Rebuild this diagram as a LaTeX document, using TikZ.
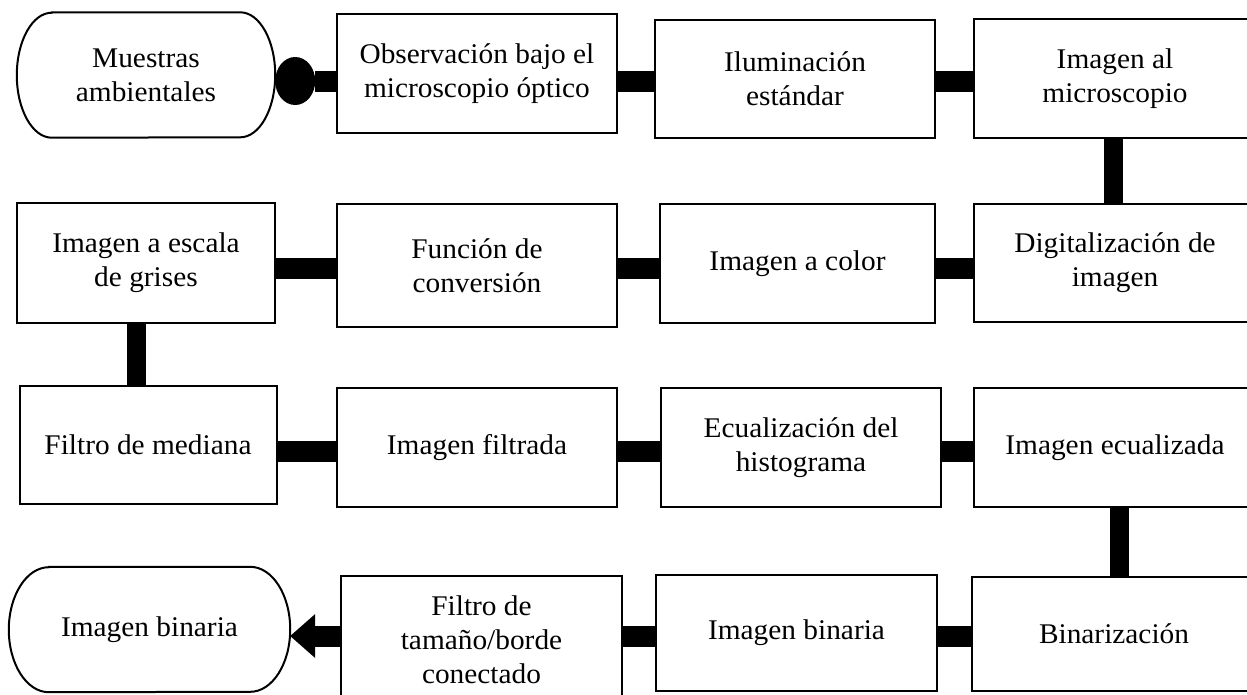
\documentclass[tikz,border=0pt]{standalone}
\usepackage{fontspec}
\setmainfont[FakeStretch=1.03]{Liberation Serif}
\usetikzlibrary{arrows.meta}
\begin{document}
\begin{tikzpicture}[x=1pt,y=-1pt,
  bord/.style={draw=black, line width=2pt},
  txt/.style={inner sep=0pt, align=center, font=\fontsize{28.5}{34}\selectfont},
  box/.style={txt, bord, fill=white},
  term/.style={txt},
  hconn/.style={draw=black, line width=21pt},
  vconn/.style={draw=black, line width=19pt}]
\clip (0,0) rectangle (1247,694);
\useasboundingbox (0,0) rectangle (1247,694);
\coordinate (r1) at (0,81);
\coordinate (r2) at (0,268);
\coordinate (r3) at (0,451);
\coordinate (r4) at (0,636);
\coordinate (c4a) at (1113.5,0);
\coordinate (c1) at (136.5,0);
\coordinate (c4b) at (1119,0);
% row 1
\node[term, minimum width=258pt, minimum height=125pt] (t1) at (146,75) {Muestras\\ambientales};
\draw[bord] ([xshift=35pt]t1.north west) -- ([xshift=-35pt]t1.north east)
  arc[start angle=90,end angle=-90,x radius=35pt,y radius=62.5pt]
  -- ([xshift=35pt]t1.south west)
  arc[start angle=270,end angle=90,x radius=35pt,y radius=62.5pt] -- cycle;
\node[box, minimum width=280pt, minimum height=119pt] (obs) at (477,73.5) {Observación bajo el\\microscopio óptico};
\node[box, minimum width=280pt, minimum height=118pt] (ilum) at (795,79) {Iluminación\\estándar};
\node[box, minimum width=282pt, minimum height=119pt] (imal) at (1115,78.5) {Imagen al\\microscopio};
% row 2
\node[box, minimum width=258pt, minimum height=120pt] (escala) at (146,263) {Imagen a escala\\de grises};
\node[box, minimum width=280pt, minimum height=123pt] (func) at (477,265.5) {Función de\\conversión};
\node[box, minimum width=275pt, minimum height=119pt] (color) at (797.5,263.5) {Imagen a color};
\node[box, minimum width=282pt, minimum height=118pt] (digit) at (1115,263) {Digitalización de\\imagen};
% row 3
\node[box, minimum width=257pt, minimum height=118pt] (med) at (148,445) {Filtro de mediana};
\node[box, minimum width=280pt, minimum height=119pt] (filt) at (477,447.5) {Imagen filtrada};
\node[box, minimum width=280pt, minimum height=119pt] (ecual) at (801,447.5) {Ecualización del\\histograma};
\node[box, minimum width=282pt, minimum height=119pt] (imec) at (1115,447.5) {Imagen ecualizada};
% row 4
\node[term, minimum width=281pt, minimum height=125pt] (t2) at (149.5,629.5) {Imagen binaria};
\draw[bord] ([xshift=40pt]t2.north west) -- ([xshift=-40pt]t2.north east)
  arc[start angle=90,end angle=-90,x radius=40pt,y radius=62.5pt]
  -- ([xshift=40pt]t2.south west)
  arc[start angle=270,end angle=90,x radius=40pt,y radius=62.5pt] -- cycle;
\node[box, minimum width=281pt, minimum height=128pt] (ftam) at (481.5,640) {Filtro de\\tamaño/borde\\conectado};
\node[box, minimum width=281pt, minimum height=116pt] (bin) at (796.5,633) {Imagen binaria};
\node[box, minimum width=284pt, minimum height=114pt] (binz) at (1114,634) {Binarización};
% connectors
\draw[hconn, {Circle[length=40pt,width=48pt,line width=0pt]}-] (t1.east |- r1) -- (obs.west |- r1);
\draw[hconn] (obs.east |- r1) -- (ilum.west |- r1);
\draw[hconn] (ilum.east |- r1) -- (imal.west |- r1);
\draw[vconn] (imal.south -| c4a) -- (digit.north -| c4a);
\draw[hconn] (digit.west |- r2) -- (color.east |- r2);
\draw[hconn] (color.west |- r2) -- (func.east |- r2);
\draw[hconn] (func.west |- r2) -- (escala.east |- r2);
\draw[vconn] (escala.south -| c1) -- (med.north -| c1);
\draw[hconn] (med.east |- r3) -- (filt.west |- r3);
\draw[hconn] (filt.east |- r3) -- (ecual.west |- r3);
\draw[hconn] (ecual.east |- r3) -- (imec.west |- r3);
\draw[vconn] (imec.south -| c4b) -- (binz.north -| c4b);
\draw[hconn] (binz.west |- r4) -- (bin.east |- r4);
\draw[hconn] (bin.west |- r4) -- (ftam.east |- r4);
\draw[hconn, -{Triangle[length=25pt,width=44pt,line width=0pt]}] (ftam.west |- r4) -- (t2.east |- r4);
\end{tikzpicture}
\end{document}
